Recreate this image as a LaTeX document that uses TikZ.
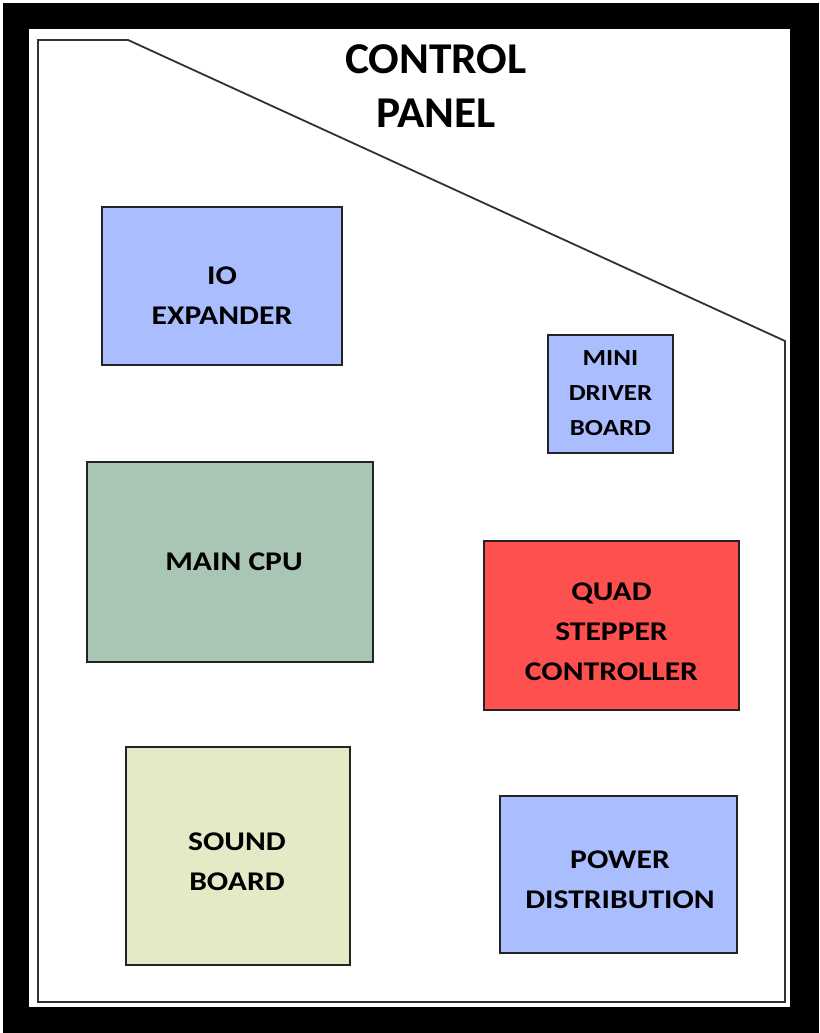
\documentclass[tikz,border=0pt]{standalone}
\usepackage{fontspec}
\setmainfont{Carlito}
\newfontfamily\boxfont[FakeStretch=1.17]{Carlito}
\newfontfamily\titlefont[FakeStretch=1.03]{Carlito}
\definecolor{ioblue}{RGB}{170,190,255}
\definecolor{cpugreen}{RGB}{169,197,180}
\definecolor{quadred}{RGB}{255,80,80}
\definecolor{soundyellow}{RGB}{230,233,197}
\definecolor{edgegray}{RGB}{35,35,35}
\definecolor{panelgray}{RGB}{50,50,50}
\begin{document}
\begin{tikzpicture}[x=1pt,y=-1pt,
  board/.style={draw=edgegray,line width=1.8pt,inner sep=0pt,outer sep=0pt},
  lbl/.style={align=center,inner sep=0pt,font=\boxfont\bfseries\fontsize{27}{40}\selectfont},
  smalllbl/.style={align=center,inner sep=0pt,font=\boxfont\bfseries\fontsize{23}{35}\selectfont},
  ttl/.style={align=center,inner sep=0pt,font=\titlefont\bfseries\fontsize{44}{54}\selectfont}]
\useasboundingbox (0,0) rectangle (819,1033);
% frame
\fill[black] (3,3) rectangle (819,1033);
\fill[white] (29,29) rectangle (790,1007);
% panel outline
\draw[panelgray,line width=1.8pt,line join=miter] (38,40) -- (128,40) -- (785,341) -- (785,1002) -- (38,1002) -- cycle;
% title
\node[ttl] (title) at (436,86) {CONTROL\\PANEL};
% boards
\node[board,fill=ioblue,minimum width=240pt,minimum height=158pt] (io) at (222,286) {};
\node[lbl] (iotext) at (222,296) {IO\\EXPANDER};
\node[board,fill=ioblue,minimum width=125pt,minimum height=118pt] (mini) at (610.5,394) {};
\node[smalllbl] (minitext) at (610.5,393.5) {MINI\\DRIVER\\BOARD};
\node[board,fill=cpugreen,minimum width=286pt,minimum height=200pt] (cpu) at (230,562) {};
\node[lbl] (cputext) at (234,561.5) {MAIN CPU};
\node[board,fill=quadred,minimum width=255pt,minimum height=169pt] (quad) at (611.5,625.5) {};
\node[lbl] (quadtext) at (611.5,631.5) {QUAD\\STEPPER\\CONTROLLER};
\node[board,fill=soundyellow,minimum width=224pt,minimum height=218pt] (sound) at (238,856) {};
\node[lbl] (soundtext) at (237,862) {SOUND\\BOARD};
\node[board,fill=ioblue,minimum width=237pt,minimum height=157pt] (power) at (618.5,874.5) {};
\node[lbl] (powertext) at (620,879.5) {POWER\\DISTRIBUTION};
\end{tikzpicture}
\end{document}
